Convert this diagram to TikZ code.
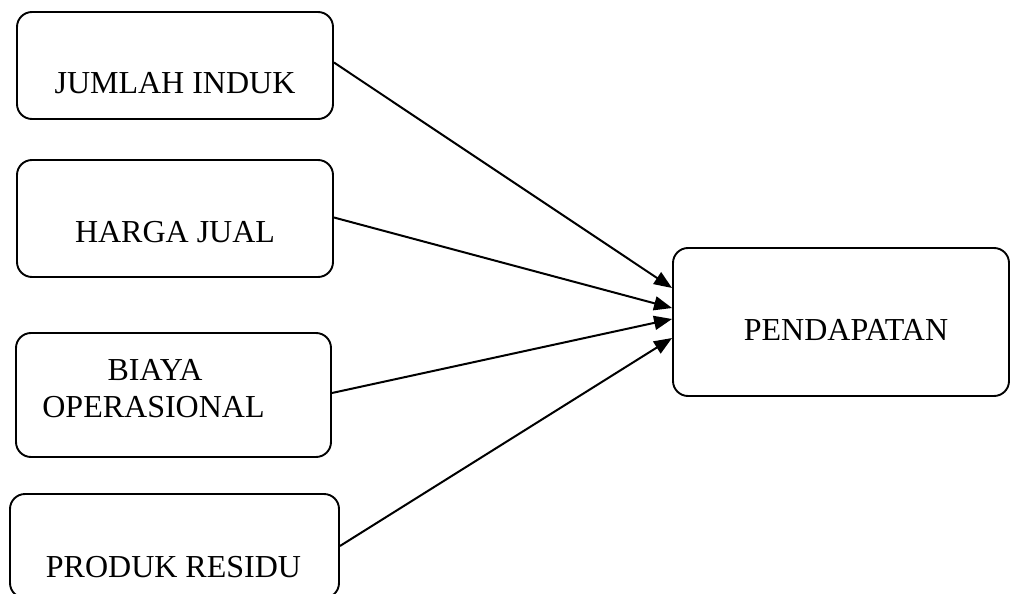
\documentclass[tikz,border=0pt]{standalone}
\usepackage{fontspec}
\setmainfont{Liberation Serif}
\usetikzlibrary{arrows.meta}
\begin{document}
\begin{tikzpicture}[x=1pt,y=-1pt,
  box/.style={draw, line width=1.9pt, rounded corners=15pt, inner sep=0pt},
  lbl/.style={anchor=base, inner sep=0pt, font=\fontsize{32}{38}\selectfont},
  arr/.style={line width=2pt, -{Triangle[length=18pt,width=14pt]}}]
\useasboundingbox (0,0) rectangle (1010,594);
\clip (0,0) rectangle (1010,594);
\node[box, minimum width=316pt, minimum height=107pt] (b1) at (175,65.5) {};
\node[box, minimum width=316pt, minimum height=117pt] (b2) at (175,218.5) {};
\node[box, minimum width=315pt, minimum height=124pt] (b3) at (173.5,395) {};
\node[box, minimum width=329pt, minimum height=104pt] (b4) at (174.5,546) {};
\node[box, minimum width=336pt, minimum height=148pt] (b5) at (841,322) {};
\node[lbl] (t1) at (175,93) {JUMLAH INDUK};
\node[lbl] (t2) at (175,242) {HARGA JUAL};
\node[lbl] (t3a) at (155,380) {BIAYA};
\node[lbl] (t3b) at (153.5,417) {OPERASIONAL};
\node[lbl] (t4) at (173.5,577) {PRODUK RESIDU};
\node[lbl] (t5) at (846,340) {PENDAPATAN};
\draw[arr] ([yshift=3pt]b1.east) -- ([yshift=34pt]b5.west);
\draw[arr] ([yshift=1pt]b2.east) -- ([yshift=14pt]b5.west);
\draw[arr] ([yshift=2pt]b3.east) -- ([yshift=3pt]b5.west);
\draw[arr] (b4.east) -- ([yshift=-16pt]b5.west);
\end{tikzpicture}
\end{document}
